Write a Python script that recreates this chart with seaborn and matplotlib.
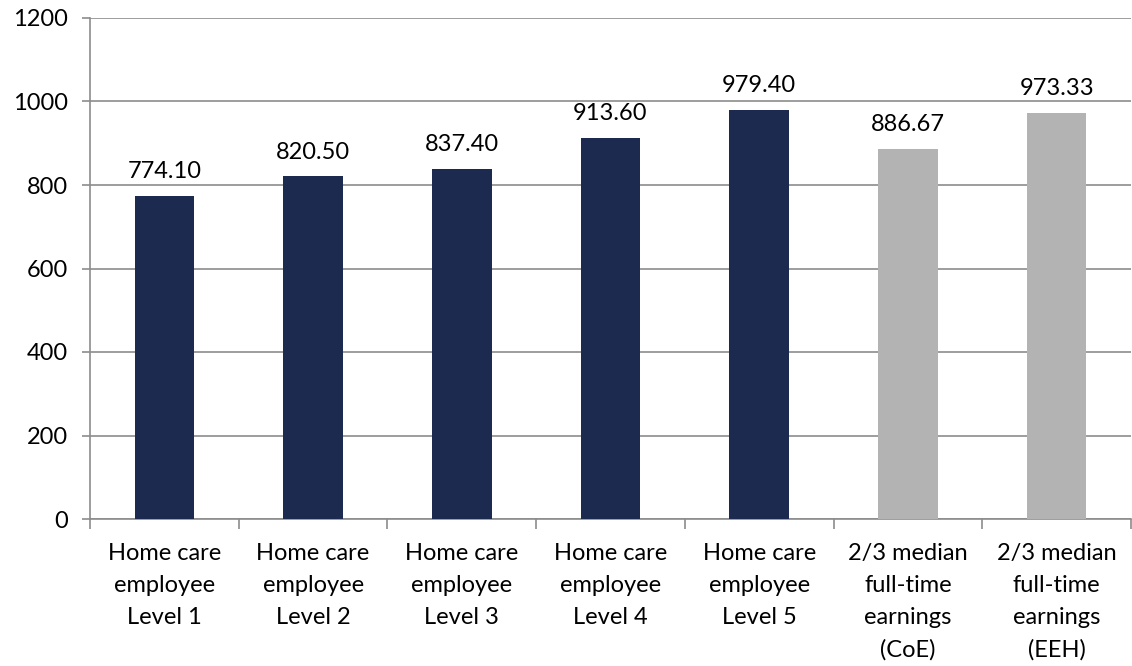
import matplotlib
matplotlib.use("Agg")
import matplotlib.pyplot as plt
import numpy as np
import pandas as pd
import seaborn as sns

CATEGORIES = [
    "Home care\nemployee\nLevel 1",
    "Home care\nemployee\nLevel 2",
    "Home care\nemployee\nLevel 3",
    "Home care\nemployee\nLevel 4",
    "Home care\nemployee\nLevel 5",
    "2/3 median\nfull-time\nearnings\n(CoE)",
    "2/3 median\nfull-time\nearnings\n(EEH)",
]
VALUES = [774.10, 820.50, 837.40, 913.60, 979.40, 886.67, 973.33]
BAR_COLORS = ["#1b2a4e"] * 5 + ["#b3b3b3"] * 2
Y_TICKS = [0, 200, 400, 600, 800, 1000, 1200]

GRID = "#8c8c8c"


def main():
    sns.set_theme(style="white")
    plt.rcParams["font.family"] = ["Lato", "DejaVu Sans"]

    df = pd.DataFrame({"category": CATEGORIES, "value": VALUES})

    fig = plt.figure(figsize=(11.32, 6.66), dpi=100)
    ax = fig.add_axes([90 / 1132, 1 - 519 / 666, 1 - 91 / 1132, (519 - 18) / 666])

    sns.barplot(data=df, x="category", y="value", hue="category",
                palette=BAR_COLORS, legend=False, width=0.4, saturation=1,
                linewidth=0, ax=ax, zorder=3)

    for c in ax.containers:
        ax.bar_label(c, fmt="%.2f", padding=10, fontsize=17, color="#000000")

    ax.set_ylim(0, 1200)
    ax.set_xlim(-0.5, len(CATEGORIES) - 0.5)
    ax.set_yticks(Y_TICKS)
    ax.yaxis.grid(True, color=GRID, linewidth=1.2, zorder=0)
    ax.set_axisbelow(True)
    ax.set_xlabel("")
    ax.set_ylabel("")

    for side in ["top", "right"]:
        ax.spines[side].set_visible(False)
    for side in ["left", "bottom"]:
        ax.spines[side].set_color(GRID)
        ax.spines[side].set_linewidth(1.2)

    ax.tick_params(axis="y", left=True, length=6, width=1.2, color=GRID,
                   labelsize=17, labelcolor="#000000", pad=10)
    ax.tick_params(axis="x", which="major", length=0, labelsize=17,
                   labelcolor="#000000", pad=17)
    ax.set_xticks(np.arange(-0.5, len(CATEGORIES)), minor=True)
    ax.tick_params(axis="x", which="minor", bottom=True, length=7, width=1.2,
                   color=GRID)
    for lbl in ax.get_xticklabels():
        lbl.set_linespacing(1.65)

    fig.savefig("out.png", dpi=100)
    plt.close(fig)


if __name__ == "__main__":
    main()
